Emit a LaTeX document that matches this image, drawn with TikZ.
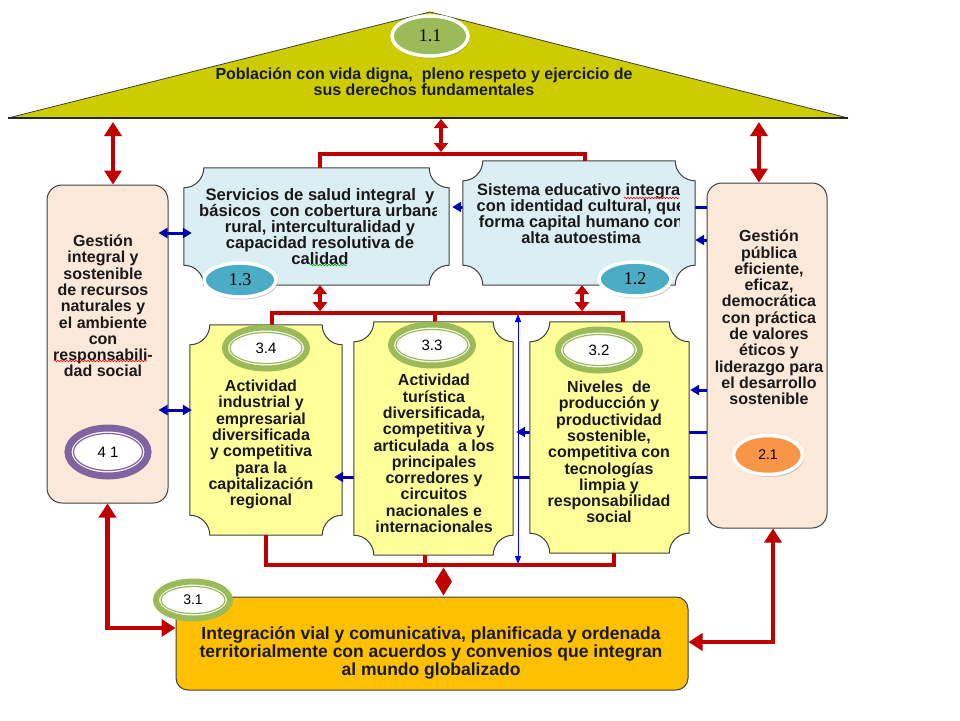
\documentclass[tikz,border=0pt]{standalone}
\usepackage{fontspec}
\setmainfont{Liberation Sans}
\newfontfamily\numserif{Liberation Serif}
\usetikzlibrary{arrows.meta,calc,shapes.geometric,shadows,decorations.pathmorphing}

\definecolor{roof}{HTML}{CCCC00}
\definecolor{skyface}{HTML}{DAEEF3}
\definecolor{peach}{HTML}{FDE9D9}
\definecolor{paleyel}{HTML}{FFFF99}
\definecolor{amber}{HTML}{FFC000}
\definecolor{linkred}{HTML}{C00000}
\definecolor{linkblue}{HTML}{0000B0}
\definecolor{olivegreen}{HTML}{9BBB59}
\definecolor{tealblue}{HTML}{4BACC6}
\definecolor{orange21}{HTML}{F79646}
\definecolor{lilac}{HTML}{8064A2}
\definecolor{edge}{HTML}{404040}

\newcommand{\plaque}[3][20pt]{%
  \path[draw=edge, line width=1pt, fill=#3]
    let \p1=(#2.south west), \p2=(#2.north east) in
    (\x1+#1,\y2) -- (\x2-#1,\y2) arc[start angle=180,end angle=270,radius=#1]
    -- (\x2,\y1+#1) arc[start angle=90,end angle=180,radius=#1]
    -- (\x1+#1,\y1) arc[start angle=0,end angle=90,radius=#1]
    -- (\x1,\y2-#1) arc[start angle=270,end angle=360,radius=#1] -- cycle;}

\tikzset{
  hold/.style 2 args={minimum width=#1, minimum height=#2, inner sep=0pt},
  boxtext/.style={font=\bfseries\fontsize{16}{16.3}\selectfont, align=center, inner sep=0pt, text=black!90},
  redlink/.style={draw=linkred, line width=4.5pt},
  redtwo/.style={redlink, >={Triangle[width=17pt,length=14pt]}, <->},
  redshort/.style={redlink, >={Triangle[width=14pt,length=9pt]}, <->},
  bluelink/.style={draw=linkblue, line width=3pt, >={Triangle[width=10pt,length=9pt]}},
  numfill/.style={ellipse, fill=#1, draw=white, line width=3.5pt, inner sep=0pt,
    drop shadow={shadow xshift=1.5pt, shadow yshift=-2.5pt, opacity=0.4}},
  ringout/.style={ellipse, draw=#1, line width=6pt, fill=white, inner sep=0pt},
  ringin/.style={ellipse, draw=#1, line width=1.2pt, inner sep=0pt, font=\fontsize{15}{15}\selectfont},
  squig/.style={draw=#1, line width=0.6pt, decorate, decoration={snake, amplitude=0.8pt, segment length=3pt}}
}

\begin{document}
\begin{tikzpicture}[x=1pt,y=-1pt]
\fill[white] (0,0) rectangle (960,720);
\useasboundingbox (0,0) rectangle (960,720);

\coordinate (roofL) at (8,118);
\coordinate (apex) at (430,12);
\coordinate (roofR) at (848,118);
\coordinate (base) at (430,119);
\fill[roof] (roofL) -- (apex) -- (roofR) -- cycle;
\draw[edge, line width=0.8pt] (roofL) -- (apex) -- (roofR);
\draw[black!85, line width=2.5pt] (roofL) -- (roofR);
\node[boxtext, font=\bfseries\fontsize{16}{16}\selectfont] (pob) at (424,82) {Población con vida digna,\ \ pleno respeto y ejercicio de\\sus derechos fundamentales};

\node[hold={121pt}{318pt}, draw=edge, line width=1pt, fill=peach, rounded corners=15pt] (lg) at (107.5,344) {};
\node[hold={120pt}{345pt}, draw=edge, line width=1pt, fill=peach, rounded corners=15pt] (rg) at (767,355.5) {};
\node[hold={512pt}{93pt}, draw=edge, line width=1pt, fill=amber, rounded corners=12pt] (bt) at (432,643.5) {};
\node[hold={265pt}{117pt}] (b13) at (316.5,226.5) {};
\node[hold={232pt}{124pt}] (b12) at (579,223) {};
\node[hold={152pt}{210pt}] (b34) at (266,430) {};
\node[hold={159pt}{233pt}] (b33) at (433.5,438.5) {};
\node[hold={159pt}{231pt}] (b32) at (609.5,437.5) {};

\plaque{b13}{skyface}
\plaque{b34}{paleyel}
\draw[bluelink,->] ($(rg.west)+(0,-148.5)$) -- ($(b13.east)+(3,-19.5)$);
\draw[bluelink,->] ($(rg.west)+(0,-115.5)$) -- ($(b12.east)+(0,17)$);
\draw[bluelink,->] ($(rg.west)+(0,34.5)$) -- ($(b32.east)+(1,-47.5)$);
\draw[bluelink,->] ($(rg.west)+(0,76.5)$) -- ($(b33.east)+(3,-6.5)$);
\draw[bluelink,->] ($(rg.west)+(0,121.5)$) -- ($(b34.east)+(-8,47)$);
\plaque{b12}{skyface}
\plaque{b33}{paleyel}
\plaque{b32}{paleyel}

\node[boxtext] (tlg) at (103,306) {Gestión\\integral y\\sostenible\\de recursos\\naturales y\\el ambiente\\con\\responsabili-\\dad social};
\node[boxtext] (trg) at (769,317.5) {Gestión\\pública\\eficiente,\\eficaz,\\democrática\\con práctica\\de valores\\éticos y\\liderazgo para\\el desarrollo\\sostenible};
\begin{scope}
\clip (b13.south west) rectangle ($(b13.north east)+(-13,0)$);
\node[boxtext, font=\bfseries\fontsize{16.6}{16}\selectfont] (t13) at (320,227) {Servicios de salud integral\ \ y\\básicos\ \ con cobertura urbana\\rural, interculturalidad y\\capacidad resolutiva de\\calidad};
\end{scope}
\begin{scope}
\clip (b12.south west) rectangle ($(b12.north east)+(-16,0)$);
\node[boxtext, font=\bfseries\fontsize{16.4}{15.8}\selectfont] (t12) at (581,213.5) {Sistema educativo integral\\con identidad cultural, que\\forma capital humano con\\alta autoestima};
\end{scope}
\node[boxtext] (t34) at (261,444.5) {Actividad\\industrial y\\empresarial\\diversificada\\y competitiva\\para la\\capitalización\\regional};
\node[boxtext] (t33) at (434,453.5) {Actividad\\turística\\diversificada,\\competitiva y\\articulada\ \ a los\\principales\\corredores y\\circuitos\\nacionales e\\internacionales};
\node[boxtext] (t32) at (609,452) {Niveles\ \ de\\producción y\\productividad\\sostenible,\\competitiva con\\tecnologías\\limpia y\\responsabilidad\\social};
\node[boxtext, font=\bfseries\fontsize{17.5}{18}\selectfont] (tbt) at (431,652.5) {Integración vial y comunicativa, planificada y ordenada\\territorialmente con acuerdos y convenios que integran\\al mundo globalizado};

\draw[bluelink,<->] ($(lg.east)+(-10,-111)$) -- ($(b13.west)+(8,6.5)$);
\draw[bluelink,<->] ($(lg.east)+(-10,66)$) -- ($(b34.west)+(2,-20)$);
\coordinate (vtop) at (518,314);
\coordinate (vbot) at (518,564);
\draw[blue, line width=1pt, >={Triangle[width=6pt,length=8pt]}, <->] (vtop) -- (vbot);

\coordinate (topbar) at (441,154);
\draw[redlink] ($(b13.north)+(3.5,0)$) |- (topbar) -| ($(b12.north)+(6,0)$);
\draw[redshort] (base -| topbar) -- ($(topbar)+(0,-2)$);
\draw[redtwo] ($(base -| lg.north)+(5.5,3)$) -- ($(lg.north)+(5.5,0)$);
\draw[redtwo] ($(base -| rg.north)+(-8,3)$) -- ($(rg.north)+(-8,0)$);
\coordinate (midbar) at (435,313);
\draw[redlink] ($(b34.north)+(6,0)$) |- (midbar) -| ($(b32.north)+(13.5,0)$);
\draw[redlink] (midbar) -- (midbar |- b33.north);
\draw[redshort] ($(b13.south)+(3.5,0)$) -- ($(b13.south)+(3.5,26)$);
\draw[redshort] ($(b12.south)+(3,0)$) -- ($(b12.south)+(3,26)$);
\coordinate (botbar) at (443.5,565);
\draw[redlink] (b34.south) |- (botbar) -| ($(b32.south)+(4.5,0)$);
\draw[redlink] ($(b33.south)+(-8.5,0)$) |- (botbar);
\node[diamond, fill=linkred, inner sep=0pt, minimum width=17pt, minimum height=28pt] (dia) at (443.5,581.5) {};
\draw[redtwo] (lg.south) |- ($(bt.west)+(0,-15.5)$);
\draw[redtwo] ($(rg.south)+(6,0)$) |- ($(bt.east)+(0,-1.5)$);

\node[numfill=olivegreen, minimum width=76pt, minimum height=40pt, font=\numserif\fontsize{18}{18}\selectfont] (e11) at (430,36) {1.1};
\node[numfill=tealblue, minimum width=72pt, minimum height=34pt, font=\numserif\fontsize{18}{18}\selectfont] (e13) at (240,280) {1.3};
\node[numfill=tealblue, minimum width=72pt, minimum height=34pt, font=\numserif\fontsize{18}{18}\selectfont] (e12) at (635,279) {1.2};
\node[numfill=orange21, minimum width=69pt, minimum height=39pt, font=\fontsize{14}{14}\selectfont] (e21) at (768,455) {2.1};
\node[ringout=lilac, line width=7pt, minimum width=80pt, minimum height=48pt] at (108,452) {};
\node[ringin=lilac, minimum width=69pt, minimum height=37pt] (e41) at (108,452) {4 1};
\node[ringout=olivegreen, minimum width=82pt, minimum height=41pt] at (266,348) {};
\node[ringin=olivegreen, minimum width=72pt, minimum height=31pt] (e34) at (266,348) {3.4};
\node[ringout=olivegreen, minimum width=82pt, minimum height=41pt] at (432,345) {};
\node[ringin=olivegreen, minimum width=72pt, minimum height=31pt] (e33) at (432,345) {3.3};
\node[ringout=olivegreen, minimum width=82pt, minimum height=41pt] at (599,350) {};
\node[ringin=olivegreen, minimum width=72pt, minimum height=31pt] (e32) at (599,350) {3.2};
\node[ringout=olivegreen, minimum width=74pt, minimum height=37pt] at (193,600) {};
\node[ringin=olivegreen, minimum width=64pt, minimum height=27pt, font=\fontsize{14}{14}\selectfont] (e31) at (193,600) {3.1};

\draw[squig=red] (624,198) -- (679,198);
\draw[squig=red] (54,361) -- (147,361);
\draw[squig=green!60!black] (310,265) -- (347,265);
\end{tikzpicture}
\end{document}
